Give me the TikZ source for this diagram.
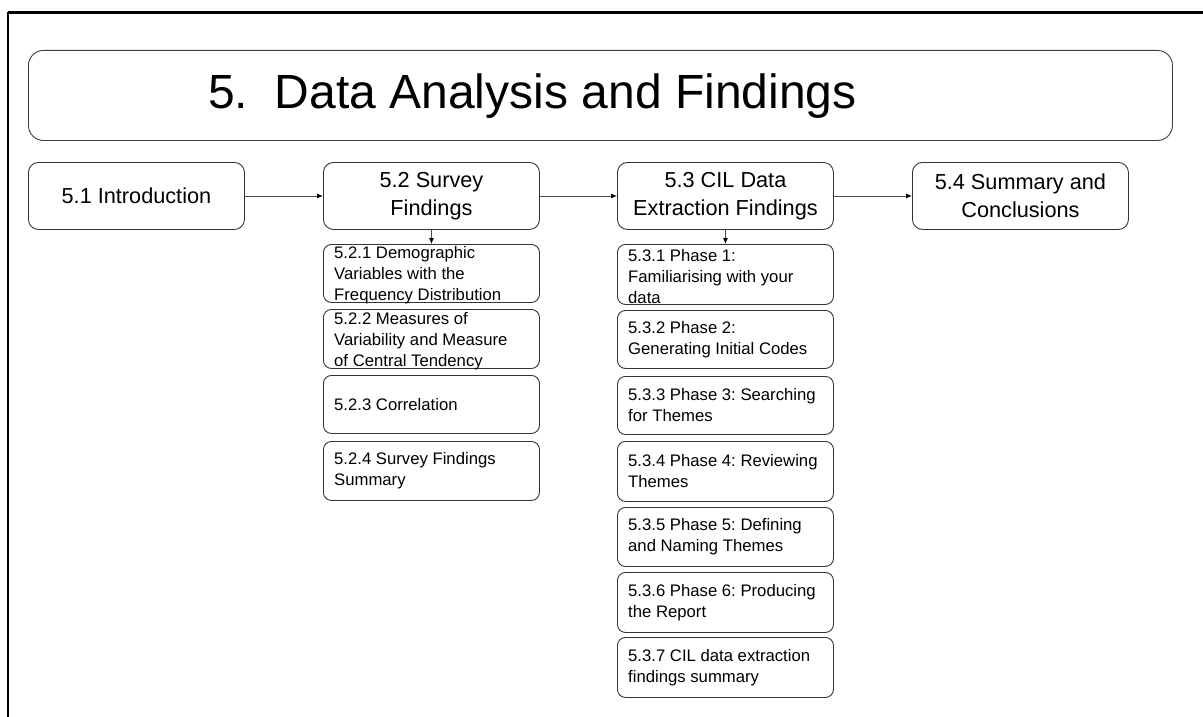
\documentclass[tikz,border=0pt]{standalone}
\usepackage{fontspec}
\setmainfont{Liberation Sans}
\usetikzlibrary{arrows.meta}
\frenchspacing
\begin{document}
\begin{tikzpicture}[x=1pt,y=-1pt,
  frameline/.style={line width=2.4pt,black},
  titlebox/.style={draw=black!75,line width=0.9pt,rounded corners=15pt,
    minimum width=1144pt,minimum height=90pt,anchor=north west,inner sep=0pt},
  mainbox/.style={draw=black!80,line width=0.9pt,rounded corners=10pt,
    minimum width=216pt,minimum height=67pt,anchor=north west,inner sep=0pt,
    align=center,font=\fontsize{21.7}{28}\selectfont},
  subbox/.style={draw=black!80,line width=0.9pt,rounded corners=8pt,
    minimum width=216pt,anchor=north west,inner sep=0pt},
  subtxt/.style={anchor=west,inner sep=0pt,align=left,
    font=\fontsize{16.7}{21}\selectfont},
  link/.style={draw=black!70,line width=0.8pt,-{Latex[length=6pt,width=5pt,black]}}
]
\useasboundingbox (0,0) rectangle (1203,717);
% outer frame (top and left edges)
\draw[frameline] (8,12.5) -- (1203,12.5);
\draw[frameline] (8,12.5) -- (8,717);

% title
\node[titlebox] (title) at (28,50) {};
\node[anchor=base west,inner sep=0pt,font=\fontsize{48}{58}\selectfont]
  (titletxt) at (208,108) {5.\ \ Data Analysis and Findings};

% top-level sections
\node[mainbox] (s1) at (28,162)  {5.1 Introduction};
\node[mainbox] (s2) at (323,162) {5.2 Survey\\Findings};
\node[mainbox] (s3) at (617,162) {5.3 CIL Data\\Extraction Findings};
\node[mainbox] (s4) at (912,162) {5.4 Summary and\\Conclusions};

\draw[link] (s1.east) -- (s2.west);
\draw[link] (s2.east) -- (s3.west);
\draw[link] (s3.east) -- (s4.west);

% subsections of 5.2
\node[subbox,minimum height=58pt] (b521) at (323,244) {};
\node[subbox,minimum height=59pt] (b522) at (323,309) {};
\node[subbox,minimum height=58pt] (b523) at (323,375) {};
\node[subbox,minimum height=59pt] (b524) at (323,441) {};
\node[subtxt] (t521) at ([xshift=11pt,yshift=-2pt]b521.west) {5.2.1 Demographic\\Variables with the\\Frequency Distribution};
\node[subtxt] (t522) at ([xshift=11pt,yshift=-2pt]b522.west) {5.2.2 Measures of\\Variability and Measure\\of Central Tendency};
\node[subtxt] (t523) at ([xshift=11pt]b523.west) {5.2.3 Correlation};
\node[subtxt] (t524) at ([xshift=11pt]b524.west) {5.2.4 Survey Findings\\Summary};

% subsections of 5.3
\node[subbox,minimum height=60pt] (b531) at (617,244) {};
\node[subbox,minimum height=58pt] (b532) at (617,310) {};
\node[subbox,minimum height=58pt] (b533) at (617,376) {};
\node[subbox,minimum height=60pt] (b534) at (617,441) {};
\node[subbox,minimum height=59pt] (b535) at (617,507) {};
\node[subbox,minimum height=60pt] (b536) at (617,572) {};
\node[subbox,minimum height=60pt] (b537) at (617,637) {};
\node[subtxt] (t531) at ([xshift=11pt,yshift=-2pt]b531.west) {5.3.1 Phase 1:\\Familiarising with your\\data};
\node[subtxt] (t532) at ([xshift=11pt]b532.west) {5.3.2 Phase 2:\\Generating Initial Codes};
\node[subtxt] (t533) at ([xshift=11pt]b533.west) {5.3.3 Phase 3: Searching\\for Themes};
\node[subtxt] (t534) at ([xshift=11pt]b534.west) {5.3.4 Phase 4: Reviewing\\Themes};
\node[subtxt] (t535) at ([xshift=11pt]b535.west) {5.3.5 Phase 5: Defining\\and Naming Themes};
\node[subtxt] (t536) at ([xshift=11pt]b536.west) {5.3.6 Phase 6: Producing\\the Report};
\node[subtxt] (t537) at ([xshift=11pt]b537.west) {5.3.7 CIL data extraction\\findings summary};

\draw[link] (s2.south) -- (b521.north);
\draw[link] (s3.south) -- (b531.north);
\end{tikzpicture}
\end{document}
